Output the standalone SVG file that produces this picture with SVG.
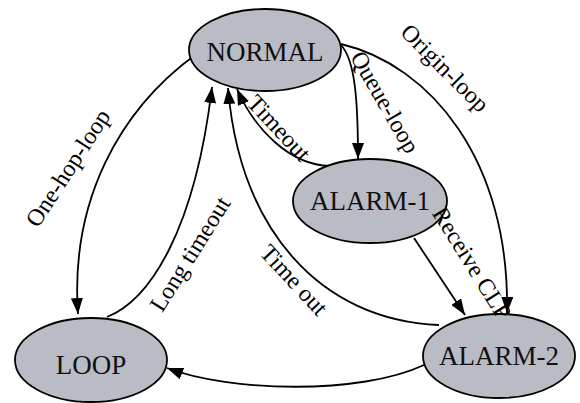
<svg xmlns="http://www.w3.org/2000/svg" width="580" height="403" viewBox="0 0 580 403">
<defs>
<marker id="ah" viewBox="0 0 16 12" refX="16" refY="6" markerWidth="16" markerHeight="12" markerUnits="userSpaceOnUse" orient="auto">
<path d="M0,0 L16,6 L0,12 Z" fill="#000"/>
</marker>
<style>
.node ellipse{fill:#babcc5;stroke:#000;stroke-width:1.8}
.node text{font-family:"Liberation Serif","Times New Roman",serif;font-size:27px;fill:#111;text-anchor:middle;dominant-baseline:central}
.edge{fill:none;stroke:#000;stroke-width:1.8;marker-end:url(#ah)}
.lbl{font-family:"Liberation Serif","Times New Roman",serif;font-size:24px;fill:#000;text-anchor:middle;dominant-baseline:central}
</style>
</defs>
<rect width="580" height="403" fill="#fff"/>
<g id="connectors">
<path class="edge" d="M341,45 C355,60 358,100 358,159"/>
<path class="edge" d="M341,44 C430,65 510,160 507,313"/>
<path class="edge" d="M330,166 C290,165 255,130 237,89"/>
<path class="edge" d="M439,325 C320,320 240,230 228,88"/>
<path class="edge" d="M107,317 C150,300 195,230 212,87"/>
<path class="edge" d="M195,55 C120,110 70,200 78,314"/>
<path class="edge" d="M414,238 L465,315"/>
<path class="edge" d="M424,365 C360,395 230,392 167,368"/>
</g>
<g id="NORMAL" class="node"><ellipse cx="265" cy="50" rx="76" ry="41"/><text x="265" y="52">NORMAL</text></g>
<g id="ALARM-1" class="node"><ellipse cx="370" cy="201" rx="77" ry="42"/><text x="370" y="201">ALARM-1</text></g>
<g id="ALARM-2" class="node"><ellipse cx="499" cy="356" rx="76" ry="42"/><text x="499" y="356">ALARM-2</text></g>
<g id="LOOP" class="node"><ellipse cx="91" cy="360" rx="76" ry="42"/><text x="91" y="365">LOOP</text></g>
<g id="labels">
<text class="lbl" transform="translate(68,168) rotate(-57)">One-hop-loop</text>
<text class="lbl" transform="translate(190,254) rotate(-58)">Long timeout</text>
<text class="lbl" transform="translate(294,280) rotate(47)">Time out</text>
<text class="lbl" transform="translate(279,128) rotate(47)">Timeout</text>
<text class="lbl" transform="translate(385,102) rotate(60)">Queue-loop</text>
<text class="lbl" transform="translate(445,68) rotate(45)">Origin-loop</text>
<text class="lbl" transform="translate(472,263) rotate(58)">Receive CLP</text>
</g>
</svg>
